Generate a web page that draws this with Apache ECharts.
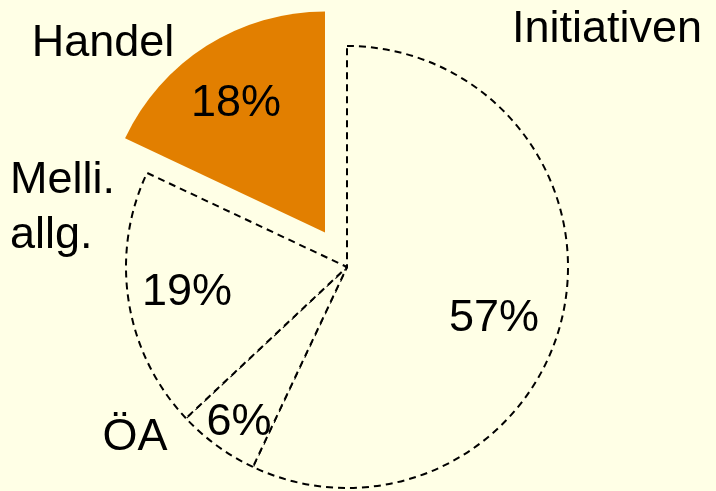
<!DOCTYPE html>
<html>
<head>
<meta charset="utf-8">
<script src="https://cdn.jsdelivr.net/npm/echarts@6/dist/echarts.min.js"></script>
<style>
  html, body { margin: 0; padding: 0; background: #FFFFE6; }
  #chart { width: 716px; height: 491px; }
</style>
</head>
<body>
<div id="chart"></div>
<script>
// 数据
var categories = ['Initiativen', 'ÖA', 'Melli.\nallg.', 'Handel'];
var shares = [57, 6, 19, 18];
var highlighted = 'Handel';

// 标签位置 (px)
var pctPos = [[494, 319], [239, 423], [187, 293], [236, 104]];
var namePos = [[607, 30], [135, 438], [10, 208], [103, 44]];
var nameAlign = ['center', 'center', 'left', 'center'];

var bg = '#FFFFE6';
var orange = '#E27F00';
var center = [347, 267];
var radius = 221;

var pieData = categories.map(function(name, i) {
    var isHi = name == highlighted;
    return {
        name: name,
        value: shares[i],
        selected: isHi,
        itemStyle: isHi ? { color: orange, borderWidth: 0 } : {
            color: bg,
            borderColor: '#000',
            borderWidth: 2,
            borderType: [7, 5]
        }
    };
});

// 透明覆盖层, 只用来放标签
function labelSeries(fmt, pos, align) {
    return {
        type: 'pie',
        silent: true,
        center: center,
        radius: [0, radius],
        startAngle: 90,
        itemStyle: { color: 'rgba(0,0,0,0)', borderWidth: 0 },
        emphasis: { disabled: true },
        label: {
            show: true,
            position: 'inside',
            formatter: fmt,
            color: '#000',
            fontSize: 45,
            lineHeight: 55,
            fontFamily: 'Liberation Sans, Arial, sans-serif'
        },
        labelLine: { show: false },
        labelLayout: function(p) {
            return { x: pos[p.dataIndex][0], y: pos[p.dataIndex][1], align: align ? align[p.dataIndex] : 'center', verticalAlign: 'middle' };
        },
        data: categories.map(function(name, i) { return { name: name, value: shares[i] }; })
    };
}

var chart = echarts.init(document.getElementById('chart'));
var option = {
    backgroundColor: bg,
    animation: false,
    series: [
        {
            name: 'share',
            type: 'pie',
            center: center,
            radius: [0, radius],
            startAngle: 90,
            clockwise: true,
            selectedMode: 'single',
            selectedOffset: 41,
            emphasis: { disabled: true },
            label: { show: false },
            labelLine: { show: false },
            data: pieData
        },
        labelSeries('{c}%', pctPos),
        labelSeries('{b}', namePos, nameAlign)
    ]
};
chart.setOption(option);
</script>
</body>
</html>
